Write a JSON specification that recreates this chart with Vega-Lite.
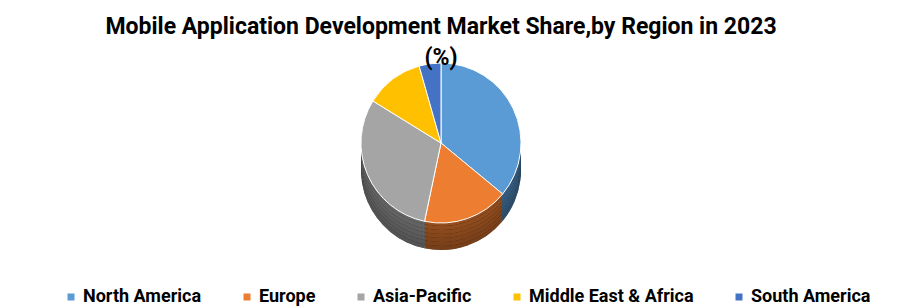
{
  "$schema": "https://vega.github.io/schema/vega-lite/v6.json",
  "width": 900,
  "height": 307,
  "autosize": {"type": "fit", "contains": "padding"},
  "padding": {"top": 26, "bottom": 0, "left": 0, "right": 18},
  "background": "white",
  "title": {
    "text": ["Mobile Application  Development Market Share,by Region in 2023", "(%)"],
    "font": "Roboto",
    "fontSize": 23,
    "fontWeight": "bold",
    "color": "#000000",
    "lineHeight": 31,
    "anchor": "middle",
    "offset": -9
  },
  "data": {
    "values": [
      {"Region": "North America", "Share": 36.0, "ord": 1},
      {"Region": "Europe", "Share": 17.3, "ord": 2},
      {"Region": "Asia-Pacific", "Share": 30.5, "ord": 3},
      {"Region": "Middle East & Africa", "Share": 11.8, "ord": 4},
      {"Region": "South America", "Share": 4.4, "ord": 5}
    ]
  },
  "encoding": {
    "theta": {"field": "Share", "type": "quantitative", "stack": true},
    "order": {"field": "ord", "type": "quantitative"},
    "color": {
      "field": "Region",
      "type": "nominal",
      "sort": ["North America", "Europe", "Asia-Pacific", "Middle East & Africa", "South America"],
      "scale": {
        "domain": ["North America", "Europe", "Asia-Pacific", "Middle East & Africa", "South America"],
        "range": ["#5B9BD5", "#ED7D31", "#A5A5A5", "#FFC000", "#4472C4"]
      },
      "legend": {
        "orient": "none",
        "legendX": 62,
        "legendY": 217,
        "direction": "horizontal",
        "gridAlign": "none",
        "title": null,
        "symbolType": "square",
        "symbolSize": 49,
        "symbolOpacity": 1,
        "symbolStrokeWidth": 0,
        "labelFont": "Roboto",
        "labelFontSize": 18,
        "labelFontWeight": "bold",
        "labelColor": "#000000",
        "columnPadding": 36,
        "labelOffset": 3,
        "labelLimit": 300
      }
    }
  },
  "layer": [
    {"mark": {"type": "arc", "outerRadius": 80, "yOffset": -19, "fill": "#000000"}},
    {"mark": {"type": "arc", "outerRadius": 80, "yOffset": -19, "opacity": 0.5}},
    {"mark": {"type": "arc", "outerRadius": 80, "yOffset": -23, "fill": "#000000"}},
    {"mark": {"type": "arc", "outerRadius": 80, "yOffset": -23, "opacity": 0.52}},
    {"mark": {"type": "arc", "outerRadius": 80, "yOffset": -27, "fill": "#000000"}},
    {"mark": {"type": "arc", "outerRadius": 80, "yOffset": -27, "opacity": 0.54}},
    {"mark": {"type": "arc", "outerRadius": 80, "yOffset": -31, "fill": "#000000"}},
    {"mark": {"type": "arc", "outerRadius": 80, "yOffset": -31, "opacity": 0.56}},
    {"mark": {"type": "arc", "outerRadius": 80, "yOffset": -35, "fill": "#000000"}},
    {"mark": {"type": "arc", "outerRadius": 80, "yOffset": -35, "opacity": 0.58}},
    {"mark": {"type": "arc", "outerRadius": 80, "yOffset": -39, "fill": "#000000"}},
    {"mark": {"type": "arc", "outerRadius": 80, "yOffset": -39, "opacity": 0.6}},
    {"mark": {"type": "arc", "outerRadius": 80, "yOffset": -43, "fill": "#000000"}},
    {"mark": {"type": "arc", "outerRadius": 80, "yOffset": -43, "opacity": 0.62}},
    {"mark": {"type": "arc", "outerRadius": 80, "yOffset": -46, "stroke": "#ffffff", "strokeWidth": 1}}
  ]
}
